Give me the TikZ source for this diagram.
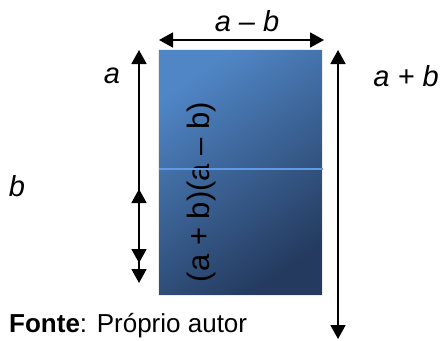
\documentclass[tikz,border=0pt]{standalone}
\usepackage{fontspec}
\setmainfont{Liberation Sans}
\usetikzlibrary{arrows.meta}
\begin{document}
\begin{tikzpicture}[x=1pt,y=-1pt,
  ddim/.style={line width=1.8pt,{Triangle[length=14pt,width=15pt]}-{Triangle[length=14pt,width=15pt]}},
  lab/.style={font=\fontsize{29}{33}\selectfont\itshape,inner sep=0pt}]
\useasboundingbox (0,0) rectangle (444,340);
% rectangle
\node[draw=gray!15,line width=1.5pt,minimum width=164pt,minimum height=246pt,inner sep=0pt,
  shading=axis,top color={rgb,255:red,80;green,134;blue,198},bottom color={rgb,255:red,36;green,58;blue,94},shading angle=35]
  (r) at (240.5,172.5) {};
\node[rotate=90,font=\fontsize{31}{35}\selectfont,inner sep=0pt] (prod) at (201,192) {(a + b)(a – b)};
\coordinate (ml) at (159,169);
\coordinate (mr) at (323,169);
\draw[line width=1.3pt,color={rgb,255:red,95;green,155;blue,230}] (ml) -- (mr);
% top arrow
\coordinate (t1) at (159,40);
\coordinate (t2) at (324,40);
\draw[ddim] (t1) -- (t2);
\node[lab] (amb) at (247,21) {a – b};
% right arrow
\coordinate (r1) at (338,50);
\coordinate (r2) at (338,339);
\draw[ddim] (r1) -- (r2);
\node[lab] (apb) at (406,76) {a + b};
% left arrows
\coordinate (l1) at (139,50);
\coordinate (l2) at (139,283);
\coordinate (l3) at (139,189);
\coordinate (l4) at (139,263);
\draw[ddim] (l2) -- (l1);
\draw[ddim] (l3) -- (l4);
\node[lab] (la) at (112,76) {a};
\node[lab] (lb) at (17,186) {b};
% source
\node[anchor=west,inner sep=0pt,font=\fontsize{26}{30}\selectfont] (src) at (9,326) {\textbf{Fonte}: Próprio autor};
\end{tikzpicture}
\end{document}
